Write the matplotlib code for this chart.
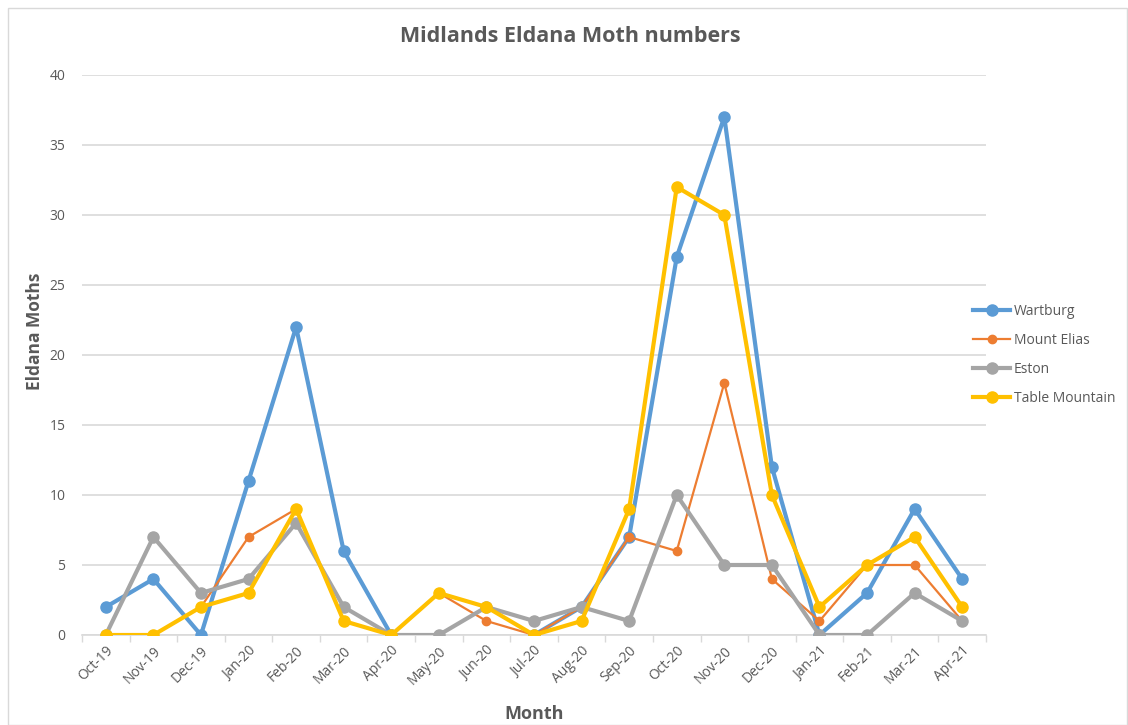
import matplotlib
matplotlib.use("Agg")
import matplotlib.pyplot as plt
import numpy as np
from matplotlib.patches import Rectangle

months = ["Oct-19", "Nov-19", "Dec-19", "Jan-20", "Feb-20", "Mar-20", "Apr-20",
          "May-20", "Jun-20", "Jul-20", "Aug-20", "Sep-20", "Oct-20", "Nov-20",
          "Dec-20", "Jan-21", "Feb-21", "Mar-21", "Apr-21"]
nan = np.nan
wartburg = [2, 4, 0, 11, 22, 6, 0, nan, nan, 0, 2, 7, 27, 37, 12, 0, 3, 9, 4]
mount_elias = [0, 0, 2, 7, 9, 1, 0, 3, 1, 0, 2, 7, 6, 18, 4, 1, 5, 5, 1]
eston = [0, 7, 3, 4, 8, 2, 0, 0, 2, 1, 2, 1, 10, 5, 5, 0, 0, 3, 1]
table_mountain = [0, 0, 2, 3, 9, 1, 0, 3, 2, 0, 1, 9, 32, 30, 10, 2, 5, 7, 2]
yticks = [0, 5, 10, 15, 20, 25, 30, 35, 40]

plt.rcParams['font.family'] = ['Open Sans', 'DejaVu Sans']
txt = '#595959'
grid = '#D9D9D9'

fig = plt.figure(figsize=(11.28, 7.25), dpi=100)
fig.patches.append(Rectangle((8/1128, 0), 1 - 8/1128 - 1/1128, 1 - 8/725, transform=fig.transFigure,
                             fill=False, edgecolor='#D9D9D9', linewidth=1))
ax = fig.add_axes([82/1128, 1 - 635/725, (986-82)/1128, (635-75)/725])

x = np.arange(len(months))
series = [
    ("Wartburg", wartburg, '#5B9BD5', 3.0, 8),
    ("Mount Elias", mount_elias, '#ED7D31', 1.6, 6),
    ("Eston", eston, '#A5A5A5', 3.0, 8),
    ("Table Mountain", table_mountain, '#FFC000', 3.0, 8),
]
for name, vals, c, lw, ms in series:
    ax.plot(x, vals, color=c, linewidth=lw, marker='o', markersize=ms, label=name,
            solid_joinstyle='round', zorder=3)

ax.set_xlim(-0.5, len(months) - 0.5)
ax.set_ylim(0, 40)
ax.set_yticks(yticks)
ax.set_yticklabels([str(v) for v in yticks], color=txt, fontsize=10)
ax.yaxis.grid(True, color=grid, linewidth=1.2)
ax.set_axisbelow(True)
ax.tick_params(axis='y', length=0, pad=12)
ax.set_xticks(x)
ax.set_xticklabels(months, rotation=45, ha='right', rotation_mode='anchor', color=txt, fontsize=10)
ax.tick_params(axis='x', length=0, pad=6)
ax.set_xticks(np.arange(-0.5, len(months), 1), minor=True)
ax.tick_params(axis='x', which='minor', length=5, color=grid, width=1)
for s in ['top', 'right', 'left']:
    ax.spines[s].set_visible(False)
ax.spines['bottom'].set_color(grid)
ax.spines['bottom'].set_linewidth(1.2)

fig.text(570/1128, 1 - 37/725, "Midlands Eldana Moth numbers", fontsize=15.5, fontweight='bold',
         color=txt, ha='center', va='center')
ax.set_ylabel("Eldana Moths", fontsize=12.5, fontweight='bold', color=txt)
ax.yaxis.set_label_coords(-47/904, (635-331)/560)
ax.set_xlabel("Month", fontsize=13, fontweight='bold', color=txt)
ax.xaxis.set_label_coords(0.5, -(714-635)/560)
ax.xaxis.label.set_va('center')
ax.yaxis.label.set_va('center')

leg = ax.legend(loc='center left', bbox_to_anchor=(0.98, 0.5), frameon=False, fontsize=10,
                labelcolor=txt, handlelength=2.6, handletextpad=0.3, labelspacing=1.0,
                borderaxespad=0)

fig.savefig("out.png", dpi=100)
